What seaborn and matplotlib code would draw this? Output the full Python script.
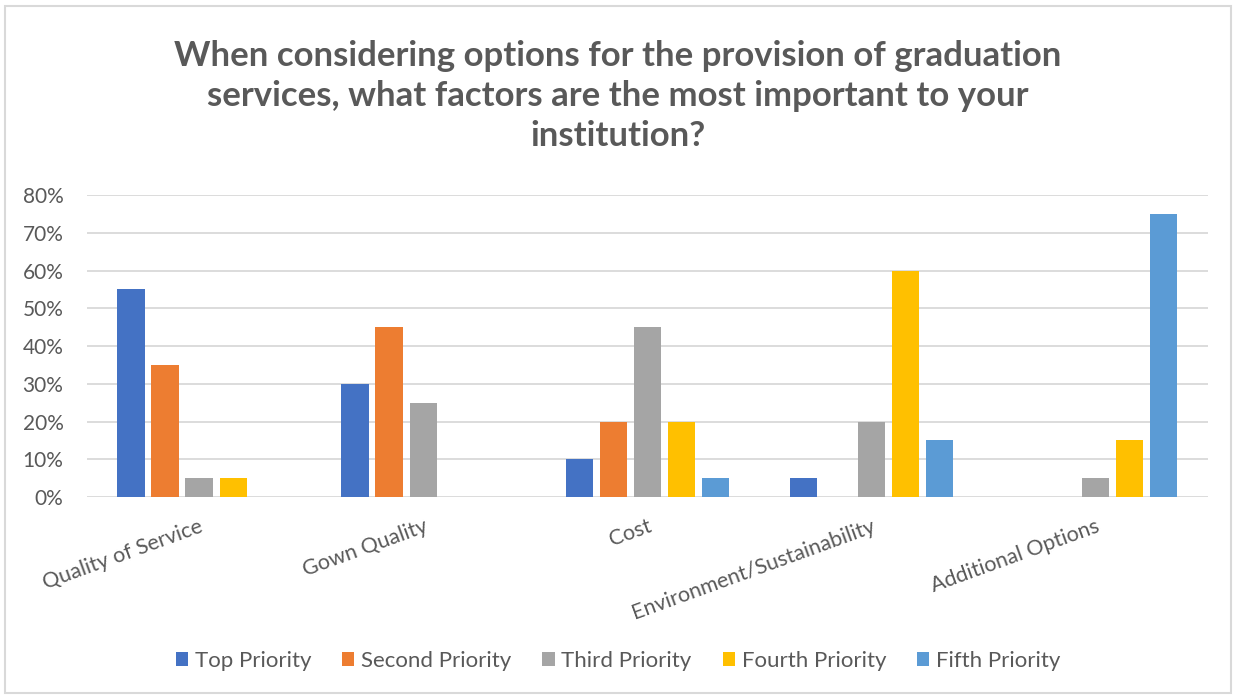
import matplotlib
matplotlib.use("Agg")
import matplotlib.pyplot as plt
from matplotlib.patches import Rectangle
from matplotlib.ticker import PercentFormatter
import seaborn as sns
import pandas as pd

categories = ["Quality of Service", "Gown Quality", "Cost",
              "Environment/Sustainability", "Additional Options"]
series = ["Top Priority", "Second Priority", "Third Priority",
          "Fourth Priority", "Fifth Priority"]
top_priority = [55, 30, 10, 5, 0]
second_priority = [35, 45, 20, 0, 0]
third_priority = [5, 25, 45, 20, 5]
fourth_priority = [5, 0, 20, 60, 15]
fifth_priority = [0, 0, 5, 15, 75]
yticks = [0, 10, 20, 30, 40, 50, 60, 70, 80]
colors = ["#4472C4", "#ED7D31", "#A5A5A5", "#FFC000", "#5B9BD5"]

values = [top_priority, second_priority, third_priority,
          fourth_priority, fifth_priority]
rows = []
for s, vals in zip(series, values):
    for c, v in zip(categories, vals):
        rows.append({"Factor": c, "Priority": s, "Share": v})
df = pd.DataFrame(rows)

sns.set_theme(style="white")
plt.rcParams["font.family"] = ["Lato", "DejaVu Sans"]
text_gray = "#595959"
grid_gray = "#D9D9D9"

fig = plt.figure(figsize=(12.36, 6.97), dpi=100)
ax = fig.add_axes([0.0704, 0.287, 0.9066, 0.433])

sns.barplot(data=df, x="Factor", y="Share", hue="Priority",
            order=categories, hue_order=series, palette=colors,
            width=0.76, gap=0.2, linewidth=0, saturation=1, ax=ax)

ax.set_ylim(0, 80)
ax.set_xlim(-0.5, len(categories) - 0.5)
ax.set_yticks(yticks)
ax.yaxis.set_major_formatter(PercentFormatter(decimals=0))
ax.grid(axis="y", color=grid_gray, linewidth=1.3)
ax.set_axisbelow(True)
for sp in ax.spines.values():
    sp.set_visible(False)
ax.set_xlabel("")
ax.set_ylabel("")
ax.tick_params(axis="y", colors=text_gray, labelsize=15, length=0, pad=17)
ax.tick_params(axis="x", colors=text_gray, labelsize=15.5, length=0, pad=14)
plt.setp(ax.get_xticklabels(), rotation=20, ha="right", rotation_mode="anchor")

handles, labels = ax.get_legend_handles_labels()
ax.legend_.remove()
fig.legend(handles, labels, loc="center", bbox_to_anchor=(0.5, 0.052),
           ncol=5, frameon=False, fontsize=16, labelcolor=text_gray,
           handlelength=0.55, handleheight=0.55, handletextpad=0.3,
           columnspacing=1.4)

fig.text(0.5, 0.782,
         "When considering options for the provision of graduation\n"
         "services, what factors are the most important to your\n"
         "institution?",
         ha="center", va="bottom", fontsize=25, fontweight="bold",
         color=text_gray, linespacing=1.3)

fig.patches.append(Rectangle((0.004, 0.006), 0.992, 0.986,
                             transform=fig.transFigure, fill=False,
                             edgecolor=grid_gray, linewidth=1.5))

fig.savefig("out.png", dpi=100)
